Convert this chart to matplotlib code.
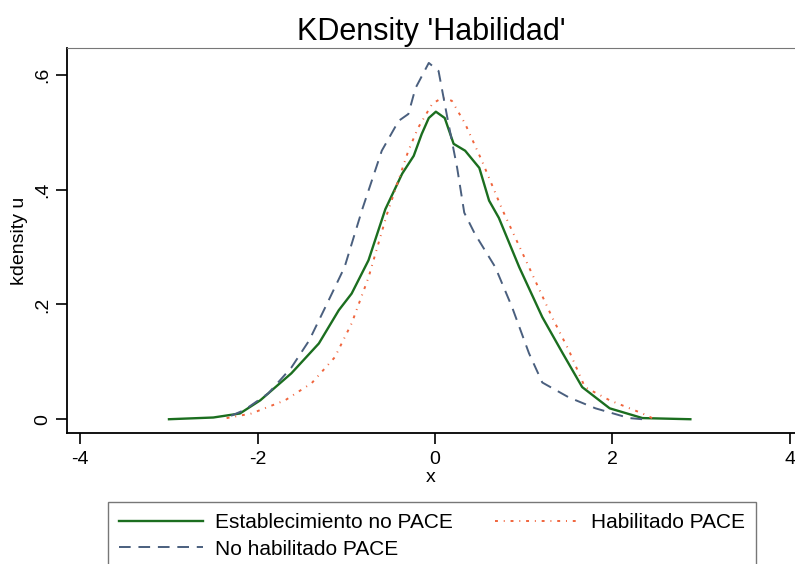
import matplotlib.pyplot as plt
import numpy as np

plt.rcParams['font.family'] = ['Liberation Sans', 'DejaVu Sans']
plt.rcParams['axes.unicode_minus'] = False

# Curves
x_est = [-3.0, -2.5, -2.2, -1.97, -1.62, -1.31, -1.085, -0.94, -0.75, -0.56, -0.37,
         -0.24, -0.15, -0.07, 0.01, 0.11, 0.21, 0.34, 0.5, 0.61, 0.72, 0.95, 1.21,
         1.44, 1.66, 1.97, 2.34, 2.88]
y_est = [0.0, 0.003, 0.01, 0.033, 0.08, 0.132, 0.19, 0.219, 0.277, 0.366, 0.428,
         0.459, 0.497, 0.525, 0.536, 0.525, 0.48, 0.468, 0.438, 0.381, 0.351, 0.265,
         0.178, 0.115, 0.056, 0.019, 0.002, 0.0]

x_nohab = [-2.3, -2.15, -1.88, -1.62, -1.42, -1.2, -1.02, -0.82, -0.6, -0.41, -0.3,
           -0.22, -0.07, 0.04, 0.14, 0.25, 0.33, 0.45, 0.68, 0.87, 1.06, 1.21, 1.51,
           1.81, 2.19, 2.34]
y_nohab = [0.006, 0.016, 0.045, 0.09, 0.137, 0.207, 0.265, 0.366, 0.468, 0.52, 0.532,
           0.577, 0.621, 0.607, 0.525, 0.438, 0.36, 0.323, 0.265, 0.195, 0.115, 0.064,
           0.038, 0.019, 0.002, 0.0]

x_hab = [-2.35, -2.07, -1.69, -1.39, -1.13, -0.94, -0.75, -0.54, -0.3, -0.19, -0.03,
         0.08, 0.19, 0.34, 0.53, 0.76, 1.06, 1.32, 1.51, 1.69, 1.97, 2.34, 2.45]
y_hab = [0.002, 0.01, 0.033, 0.063, 0.108, 0.167, 0.247, 0.358, 0.468, 0.508, 0.55,
         0.56, 0.555, 0.515, 0.45, 0.365, 0.265, 0.178, 0.12, 0.056, 0.033, 0.01, 0.002]

xticks = [-4, -2, 0, 2, 4]
yticks = [0, 0.2, 0.4, 0.6]
ytick_labels = ['0', '.2', '.4', '.6']

fig = plt.figure(figsize=(7.95, 5.64), dpi=100)
ax = fig.add_axes([67 / 795, 1 - 433 / 564, 1 - 67 / 795, (433 - 48) / 564])

l_est, = ax.plot(x_est, y_est, color='#1b6e1f', lw=1.7)
l_hab, = ax.plot(x_hab, y_hab, color='#f0643c', lw=1.4, linestyle=(0, (1.5, 3, 0.5, 3)))
l_nohab, = ax.plot(x_nohab, y_nohab, color='#4a5f7e', lw=1.4, linestyle=(0, (6, 4)))

ax.set_xlim(-4.15, 4.06)
ax.set_ylim(-0.024, 0.647)
ax.set_xticks(xticks)
ax.set_yticks(yticks)
ax.set_yticklabels(ytick_labels, rotation=90, va='center')
ax.tick_params(direction='out', length=8, width=1.2, labelsize=14)
ax.tick_params(axis='x', pad=5)
for s in ['left', 'bottom']:
    ax.spines[s].set_linewidth(1.3)
ax.spines['top'].set_color('#777777')
ax.spines['right'].set_visible(False)

ax.set_xlabel('x', fontsize=14, labelpad=1)
ax.set_ylabel('kdensity u', fontsize=14, labelpad=4)
ax.set_title("KDensity 'Habilidad'", fontsize=22, pad=6)

# legend fills columns first: col 1 = Establecimiento, No habilitado; col 2 = Habilitado
leg = fig.legend([l_est, l_nohab, l_hab],
                 ['Establecimiento no PACE', 'No habilitado PACE', 'Habilitado PACE'],
                 ncol=2, loc='upper left',
                 bbox_to_anchor=(108 / 795, 1 - 502 / 564), fontsize=15,
                 frameon=True, fancybox=False, edgecolor='#555555',
                 handlelength=4, handletextpad=0.6, columnspacing=2.0,
                 borderpad=0.55, borderaxespad=0, labelspacing=0.35)
leg.get_frame().set_linewidth(1.0)

fig.savefig('out.png', dpi=100)
